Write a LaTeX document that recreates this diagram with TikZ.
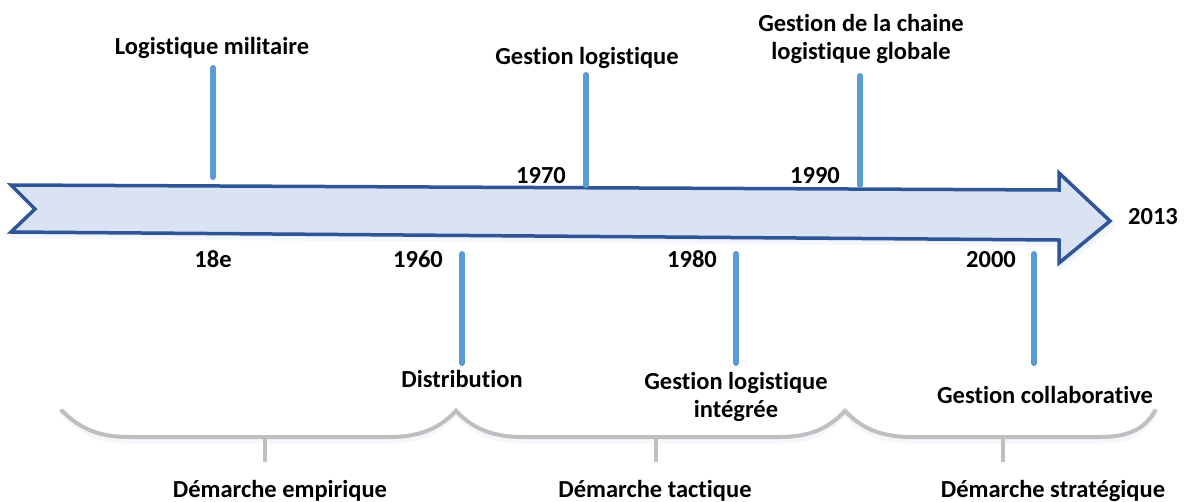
\documentclass[tikz,border=0pt]{standalone}
\usepackage{fontspec}
\setmainfont{Carlito}[Ligatures={NoCommon}]
\begin{document}
\begin{tikzpicture}[x=1pt,y=-1pt,
  lbl/.style={font=\fontsize{24.5}{28}\selectfont\bfseries, inner sep=0pt, anchor=base, align=center},
  tickbar/.style={draw=tickblue, line width=6pt, line cap=round},
  bracepath/.style={draw=bracegray, line width=4pt, line cap=round},
  softshade/.style={draw=shadecol, line width=7pt, line cap=round, line join=round, opacity=0.35},
  timearrow/.style={draw=arrowblue, fill=arrowfill, line width=3.5pt, line join=miter}]
\definecolor{tickblue}{HTML}{5B9BD5}
\definecolor{arrowblue}{HTML}{2F5597}
\definecolor{arrowfill}{HTML}{DAE3F3}
\definecolor{bracegray}{HTML}{BFBFBF}
\definecolor{shadecol}{HTML}{DCE6F2}
\useasboundingbox (0,0) rectangle (1184,501);

% faint shadow under the time arrow
\draw[softshade, fill=shadecol] (13,188) -- (1061,193) -- (1061,176) -- (1112,224)
  -- (1061,266) -- (1061,243) -- (13,235) -- (37,212) -- cycle;

% main time arrow
\draw[timearrow] (11,185) -- (1059,190) -- (1059,173) -- (1110,221)
  -- (1059,263) -- (1059,240) -- (11,232) -- (35,209) -- cycle;

% labels above the arrow
\node[lbl] (lmil) at (212,54) {Logistique militaire};
\node[lbl] (glog) at (587,64) {Gestion logistique};
\node[lbl] (gcha) at (861,59) {Gestion de la chaine\\logistique globale};
\node[lbl] (y1970) at (541,183) {1970};
\node[lbl] (y1990) at (815,183) {1990};
\node[lbl] (y2013) at (1153,224) {2013};

% labels below the arrow
\node[lbl] (y18) at (213,267) {18e};
\node[lbl] (y1960) at (418,267) {1960};
\node[lbl] (y1980) at (692,267) {1980};
\node[lbl] (y2000) at (991,267) {2000};
\node[lbl] (dist) at (462,387) {Distribution};
\node[lbl] (gint) at (736,417) {Gestion logistique\\intégrée};
\node[lbl] (gcol) at (1045,403) {Gestion collaborative};

% period labels
\node[lbl] (demp) at (280,497) {Démarche empirique};
\node[lbl] (dtac) at (655,497) {Démarche tactique};
\node[lbl] (dstr) at (1053,497) {Démarche stratégique};

% tick bars
\coordinate (b1t) at (213,68);  \coordinate (b1b) at (213,177);
\coordinate (b2t) at (586,75);  \coordinate (b2b) at (586,185);
\coordinate (b3t) at (860,76);  \coordinate (b3b) at (860,185);
\coordinate (b4t) at (462,254); \coordinate (b4b) at (462,363);
\coordinate (b5t) at (736,254); \coordinate (b5b) at (736,363);
\coordinate (b6t) at (1034,254); \coordinate (b6b) at (1034,363);
\foreach \i in {1,...,6} \draw[tickbar] (b\i t) -- (b\i b);

% braces grouping the periods (with a faint shadow below)
\coordinate (c0) at (62,411);
\coordinate (c1) at (456,411);
\coordinate (c2) at (845,411);
\coordinate (c3) at (1155,411);
\def\bracecurve{(c0) .. controls (82,430) and (100,437) .. (130,437)
  -- (390,437) .. controls (420,437) and (440,428) .. (c1)
  .. controls (472,428) and (492,437) .. (522,437)
  -- (780,437) .. controls (810,437) and (829,428) .. (c2)
  .. controls (861,428) and (881,437) .. (911,437)
  -- (1100,437) .. controls (1130,437) and (1145,428) .. (c3)}
\draw[softshade, yshift=-3pt] \bracecurve;
\draw[bracepath] \bracecurve;
\draw[bracepath, line cap=butt] (265,437) -- (265,462);
\draw[bracepath, line cap=butt] (656,437) -- (656,462);
\draw[bracepath, line cap=butt] (1003,437) -- (1003,462);
\end{tikzpicture}
\end{document}
